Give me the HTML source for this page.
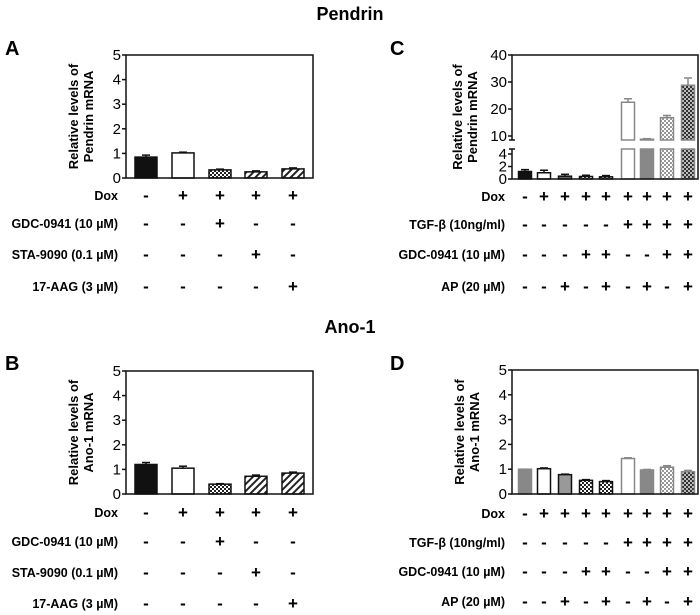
<!DOCTYPE html>
<html><head><meta charset="utf-8">
<style>
html,body{margin:0;padding:0;background:#fff;}
svg{display:block;font-family:"Liberation Sans",Arial,sans-serif;}
</style></head>
<body>
<svg id="fig" width="700" height="615" viewBox="0 0 700 615" xmlns="http://www.w3.org/2000/svg">
<defs>
<pattern id="chk" width="4" height="4" patternUnits="userSpaceOnUse"><rect width="4" height="4" fill="#fff"/><rect width="2" height="2" fill="#222"/><rect x="2" y="2" width="2" height="2" fill="#222"/></pattern>
<pattern id="chkLight" width="4" height="4" patternUnits="userSpaceOnUse"><rect width="4" height="4" fill="#fff"/><rect width="2" height="2" fill="#999"/><rect x="2" y="2" width="2" height="2" fill="#999"/></pattern>
<pattern id="chkDark" width="4" height="4" patternUnits="userSpaceOnUse"><rect width="4" height="4" fill="#bbb"/><rect width="2" height="2" fill="#333"/><rect x="2" y="2" width="2" height="2" fill="#333"/></pattern>
<pattern id="hatch" width="5" height="5" patternUnits="userSpaceOnUse" patternTransform="rotate(45)"><rect width="5" height="5" fill="#fff"/><rect width="2" height="5" fill="#222"/></pattern>
</defs>
<text x="350" y="20" text-anchor="middle" font-size="18" font-weight="bold">Pendrin</text>
<text x="350" y="333" text-anchor="middle" font-size="18" font-weight="bold">Ano-1</text>
<text x="5" y="55" font-size="20" font-weight="bold">A</text>
<text x="5" y="370" font-size="20" font-weight="bold">B</text>
<text x="390" y="55" font-size="20" font-weight="bold">C</text>
<text x="390" y="370" font-size="20" font-weight="bold">D</text>
</svg>
<script>
// ---- data ----
const aValues = [0.85, 1.02, 0.33, 0.25, 0.37];
const aErrors = [0.08, 0.03, 0.03, 0.04, 0.04];
const bValues = [1.2, 1.05, 0.4, 0.72, 0.85];
const bErrors = [0.08, 0.08, 0.02, 0.05, 0.04];
const cValues = [1.2, 1.0, 0.45, 0.4, 0.35, 22.5, 8.8, 16.8, 28.8];
const cErrors = [0.3, 0.4, 0.3, 0.2, 0.2, 1.3, 0.2, 0.8, 2.7];
const dValues = [1.0, 1.02, 0.78, 0.55, 0.5, 1.43, 0.97, 1.08, 0.9];
const dErrors = [0.0, 0.03, 0.02, 0.03, 0.04, 0.03, 0.02, 0.06, 0.05];
const abTicks = [0, 1, 2, 3, 4, 5];
const cUpperTicks = [10, 20, 30, 40];
const cLowerTicks = [0, 2, 4];
const abRowLabels = ["Dox", "GDC-0941 (10 \u00b5M)", "STA-9090 (0.1 \u00b5M)", "17-AAG (3 \u00b5M)"];
const abSigns = [["-","+","+","+","+"],["-","-","+","-","-"],["-","-","-","+","-"],["-","-","-","-","+"]];
const cdRowLabels = ["Dox", "TGF-\u03b2 (10ng/ml)", "GDC-0941 (10 \u00b5M)", "AP (20 \u00b5M)"];
const cdSigns = [["-","+","+","+","+","+","+","+","+"],["-","-","-","-","-","+","+","+","+"],["-","-","-","+","+","-","-","+","+"],["-","-","+","-","+","-","+","-","+"]];
const abFills = [["#111","#111"],["#fff","#111"],["url(#chk)","#111"],["url(#hatch)","#111"],["url(#hatch)","#111"]];
const cdFills = [["#111","#111"],["#fff","#111"],["#666","#111"],["url(#chk)","#111"],["url(#chk)","#111"],["#fff","#888"],["#888","#888"],["url(#chkLight)","#888"],["url(#chkDark)","#888"]];
const dFills = [["#888","#888"],["#fff","#111"],["#999","#111"],["url(#chk)","#111"],["url(#chk)","#111"],["#fff","#888"],["#888","#888"],["url(#chkLight)","#888"],["url(#chkDark)","#888"]];

const svg = document.getElementById('fig');
const NS = "http://www.w3.org/2000/svg";
function mk(tag, at, parent){ const e=document.createElementNS(NS,tag); for(const k in at) e.setAttribute(k,at[k]); (parent||svg).appendChild(e); return e; }

function axisTitle(g, cx, cy, l1, l2){
  const t = mk('text',{x:0,y:0,'font-size':13,'font-weight':'bold','text-anchor':'middle',transform:`translate(${cx},${cy}) rotate(-90)`},g);
  
  
  const s1 = mk('tspan',{x:0,dy:0},t); s1.textContent=l1;
  const s2 = mk('tspan',{x:0,dy:15},t); s2.textContent=l2;
}

function rows(g, labels, signs, xs, ys, labelRight){
  labels.forEach((lab,i)=>{
    const t = mk('text',{x:labelRight,y:ys[i]+5,'font-size':12.5,'font-weight':'bold','text-anchor':'end'},g);
    
    
    t.textContent = lab;
    signs[i].forEach((s,j)=>{
      const st = mk('text',{x:xs[j],y:ys[i]+6,'font-size':17,'font-weight':'bold','text-anchor':'middle'},g);
      
      
      st.textContent = s;
    });
  });
}

function simplePanel(name, box, values, errors, fills, ticks, ymax, xs, bw, title, rowLabels, signs, rowYs, labelRight){
  const g = mk('g',{});
  
  
  const y = v => box.b - (v/ymax)*(box.b-box.t);
  values.forEach((v,i)=>{
    const yt = y(v+errors[i]);
    const eb = mk('line',{x1:xs[i],x2:xs[i],y1:y(v),y2:yt,stroke:fills[i][1],'stroke-width':1.5},g);
    
    
    mk('line',{x1:xs[i]-4,x2:xs[i]+4,y1:yt,y2:yt,stroke:fills[i][1],'stroke-width':1.5},g);
    const r = mk('rect',{x:xs[i]-bw/2,y:y(v),width:bw,height:box.b-y(v),fill:fills[i][0],stroke:fills[i][1],'stroke-width':1.5},g);
    
    
  });
  const fr = mk('rect',{x:box.l,y:box.t,width:box.r-box.l,height:box.b-box.t,fill:'none',stroke:'#111','stroke-width':1.5},g);
  
  
  ticks.forEach(tv=>{
    mk('line',{x1:box.l-4,x2:box.l,y1:y(tv),y2:y(tv),stroke:'#111','stroke-width':1.5},g);
    const t = mk('text',{x:box.l-5,y:y(tv)+5,'font-size':15,'text-anchor':'end'},g);
    
    
    t.textContent = tv;
  });
  axisTitle(g, box.l-48, (box.t+box.b)/2, title[0], title[1]);
  rows(g, rowLabels, signs, xs, rowYs, labelRight);
}

const abXs = [146,183,220,256,293];
simplePanel('panel-a-chart',{l:126,r:313,t:55,b:178},aValues,aErrors,abFills,abTicks,5,abXs,22,["Relative levels of","Pendrin mRNA"],abRowLabels,abSigns,[195,223,254,286],118);
simplePanel('panel-b-chart',{l:126,r:313,t:371,b:494},bValues,bErrors,abFills,abTicks,5,abXs,22,["Relative levels of","Ano-1 mRNA"],abRowLabels,abSigns,[512,541,572,603],118);
const cdXs = [525,544,565,586,606,628,647,667,688];
simplePanel('panel-d-chart',{l:512,r:698,t:370,b:494},dValues,dErrors,dFills,abTicks,5,cdXs,13,["Relative levels of","Ano-1 mRNA"],cdRowLabels,cdSigns,[513,542,571,601],505);

// panel C broken axis
(function(){
  const g = mk('g',{});
  
  
  const L=512,R=698,T=55,B=179, upBot=140, loTop=149;
  const yLo = v => B - v*6.25;
  const yUp = v => 136 - (v-10)*2.7;
  const loMax = (B-loTop)/6.25, upMin = 10-(upBot-136)/2.7;
  const bw = 13;
  cValues.forEach((v,i)=>{
    const x = cdXs[i], f = cdFills[i];
    const topLo = yLo(Math.min(v,loMax));
    const r = mk('rect',{x:x-bw/2,y:topLo,width:bw,height:B-topLo,fill:f[0],stroke:f[1],'stroke-width':1.5},g);
    
    
    if(v>upMin){
      const ru = mk('rect',{x:x-bw/2,y:yUp(v),width:bw,height:upBot-yUp(v),fill:f[0],stroke:f[1],'stroke-width':1.5},g);
      
      
      const ye = yUp(v+cErrors[i]);
      mk('line',{x1:x,x2:x,y1:yUp(v),y2:ye,stroke:f[1],'stroke-width':1.5},g);
      mk('line',{x1:x-4,x2:x+4,y1:ye,y2:ye,stroke:f[1],'stroke-width':1.5},g);
    } else {
      const ye = yLo(v+cErrors[i]);
      mk('line',{x1:x,x2:x,y1:yLo(v),y2:ye,stroke:f[1],'stroke-width':1.5},g);
      mk('line',{x1:x-4,x2:x+4,y1:ye,y2:ye,stroke:f[1],'stroke-width':1.5},g);
    }
  });
  mk('polyline',{points:`${L},${upBot} ${L},${T} ${R},${T} ${R},${B} ${L},${B} ${L},${loTop}`,fill:'none',stroke:'#111','stroke-width':1.5},g);
  mk('line',{x1:L-3,x2:L+3,y1:upBot,y2:upBot,stroke:'#111','stroke-width':1.5},g);
  mk('line',{x1:L-3,x2:L+3,y1:loTop,y2:loTop,stroke:'#111','stroke-width':1.5},g);
  cUpperTicks.forEach(tv=>{
    mk('line',{x1:L-4,x2:L,y1:yUp(tv),y2:yUp(tv),stroke:'#111','stroke-width':1.5},g);
    const t = mk('text',{x:L-5,y:yUp(tv)+5,'font-size':15,'text-anchor':'end'},g);
    
    
    t.textContent = tv;
  });
  cLowerTicks.forEach(tv=>{
    mk('line',{x1:L-4,x2:L,y1:yLo(tv),y2:yLo(tv),stroke:'#111','stroke-width':1.5},g);
    const t = mk('text',{x:L-5,y:yLo(tv)+5,'font-size':15,'text-anchor':'end'},g);
    
    
    t.textContent = tv;
  });
  axisTitle(g, L-50, (T+B)/2, "Relative levels of", "Pendrin mRNA");
  rows(g, cdRowLabels, cdSigns, cdXs, [196,224,254,286], 505);
})();
</script>
</body></html>
